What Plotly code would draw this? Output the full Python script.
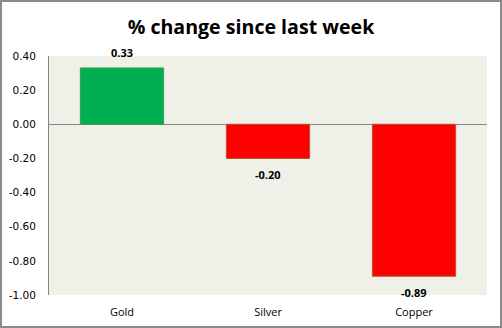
import plotly.graph_objects as go

# Weekly percentage change by metal
metals = ["Gold", "Silver", "Copper"]
changes = [0.33, -0.20, -0.89]
y_ticks = [0.40, 0.20, 0.00, -0.20, -0.40, -0.60, -0.80, -1.00]

W, H = 502, 328
L, R, T, B = 49, 15, 56, 33
pw, ph = W - L - R, H - T - B

fill = ["#00B050" if v >= 0 else "#FF0000" for v in changes]
edge = ["#3E9B4F" if v >= 0 else "#B5562E" for v in changes]

fig = go.Figure(
    go.Bar(
        x=metals,
        y=changes,
        width=0.57,
        marker=dict(color=fill, line=dict(color=edge, width=1)),
        hoverinfo="x+y",
    )
)

# Value labels just beyond the end of each bar
for m, v in zip(metals, changes):
    fig.add_annotation(
        x=m,
        y=v,
        text=f"<b>{v:.2f}</b>",
        showarrow=False,
        yanchor="bottom" if v >= 0 else "top",
        yshift=6 if v >= 0 else -7,
        font=dict(family="Open Sans", size=11, color="#000000"),
    )

fig.update_layout(
    width=W,
    height=H,
    margin=dict(l=L, r=R, t=T, b=B, autoexpand=False),
    paper_bgcolor="#FFFFFF",
    plot_bgcolor="#EFF0E8",
    showlegend=False,
    title=dict(
        text="<b>% change since last week</b>",
        x=0.5,
        xanchor="center",
        y=1 - 27 / H,
        yanchor="middle",
        font=dict(family="Open Sans", size=19.6, color="#000000"),
    ),
    xaxis=dict(
        showgrid=False,
        showline=False,
        ticks="",
        automargin=False,
        ticklabelstandoff=9,
        tickfont=dict(family="Open Sans", size=11, color="#000000"),
        fixedrange=True,
    ),
    yaxis=dict(
        range=[-1.0, 0.4],
        tickvals=y_ticks,
        ticktext=[f"{v:.2f}" for v in y_ticks],
        showgrid=False,
        zeroline=True,
        zerolinecolor="#868686",
        zerolinewidth=1,
        showline=True,
        linecolor="#868686",
        linewidth=1,
        ticks="",
        automargin=False,
        ticklabelstandoff=10,
        tickfont=dict(family="DejaVu Sans", size=10.5, color="#000000"),
        fixedrange=True,
    ),
    shapes=[
        dict(
            type="rect",
            xref="paper",
            yref="paper",
            x0=-(L - 1) / pw,
            x1=1 + (R - 1) / pw,
            y0=-(B - 1) / ph,
            y1=1 + (T - 1) / ph,
            line=dict(color="#8C8C8C", width=2),
            fillcolor="rgba(0,0,0,0)",
            layer="below",
        )
    ],
)

fig.write_html("out.html")
